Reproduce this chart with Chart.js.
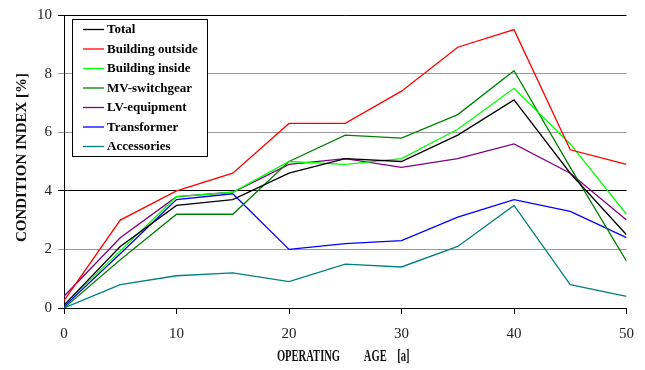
<!DOCTYPE html>
<html>
<head>
<meta charset="utf-8">
<script src="https://cdn.jsdelivr.net/npm/chart.js@4"></script>
<style>
  html, body { margin: 0; padding: 0; background: #fff; }
  #wrap { width: 645px; height: 370px; position: relative; }
</style>
</head>
<body>
<div id="wrap"><canvas id="conditionChart"></canvas></div>
<script>
// operating age [a]
const ages = [0, 5, 10, 15, 20, 25, 30, 35, 40, 45, 50];

// condition index [%] per component group
const total          = [0.1, 2.1, 3.5, 3.7, 4.6, 5.1, 5.0, 5.9, 7.1, 4.6, 2.5];
const buildOutside   = [0.25, 3.0, 4.0, 4.6, 6.3, 6.3, 7.4, 8.9, 9.5, 5.4, 4.9];
const buildInside    = [0.1, 1.95, 3.8, 3.95, 5.0, 4.9, 5.1, 6.1, 7.5, 5.6, 3.2];
const mvSwitchgear   = [0.0, 1.65, 3.2, 3.2, 5.0, 5.9, 5.8, 6.6, 8.1, 4.8, 1.6];
const lvEquipment    = [0.4, 2.4, 3.8, 3.95, 4.9, 5.1, 4.8, 5.1, 5.6, 4.6, 3.0];
const transformer    = [0.05, 1.85, 3.7, 3.9, 2.0, 2.2, 2.3, 3.1, 3.7, 3.3, 2.4];
const accessories    = [0.0, 0.8, 1.1, 1.2, 0.9, 1.5, 1.4, 2.1, 3.5, 0.8, 0.4];

const yTicks = [0, 2, 4, 6, 8, 10];
const xTicks = [0, 10, 20, 30, 40, 50];

const serif = "'Liberation Serif', 'Times New Roman', serif";

function toPoints(values) {
  return values.map((v, i) => ({ x: ages[i], y: v }));
}

function line(label, values, color) {
  return {
    label: label,
    data: toPoints(values),
    borderColor: color,
    backgroundColor: color,
    borderWidth: 1.3,
    pointRadius: 0,
    tension: 0,
    fill: false
  };
}

// legend box inside the plot, plus both axis titles
const decorations = {
  id: "decorations",
  afterDraw(chart) {
    const ctx = chart.ctx;
    const area = chart.chartArea;
    ctx.save();

    // legend
    const bx = 72, by = 19, bw = 135, bh = 137;
    ctx.fillStyle = "#fff";
    ctx.fillRect(bx, by, bw, bh);
    ctx.strokeStyle = "#000";
    ctx.lineWidth = 1;
    ctx.strokeRect(bx + 0.5, by + 0.5, bw, bh);
    ctx.font = "bold 13px " + serif;
    ctx.textBaseline = "middle";
    chart.data.datasets.forEach((ds, i) => {
      const y = 29.5 + i * 19.5;
      ctx.strokeStyle = ds.borderColor;
      ctx.lineWidth = 1.3;
      ctx.beginPath();
      ctx.moveTo(83, y);
      ctx.lineTo(104, y);
      ctx.stroke();
      ctx.fillStyle = "#000";
      ctx.fillText(ds.label, 107, y + 0.5);
    });

    // y axis title
    ctx.save();
    ctx.translate(22, (area.top + area.bottom) / 2 - 4);
    ctx.rotate(-Math.PI / 2);
    ctx.font = "bold 15px " + serif;
    ctx.textAlign = "center";
    ctx.textBaseline = "middle";
    ctx.fillStyle = "#111";
    ctx.fillText("CONDITION INDEX [%]", 0, 0);
    ctx.restore();

    // x axis title (condensed)
    ctx.save();
    ctx.translate((area.left + area.right) / 2 - 2, 357);
    ctx.scale(0.66, 1);
    ctx.font = "bold 16px " + serif;
    ctx.textAlign = "center";
    ctx.textBaseline = "middle";
    ctx.fillStyle = "#111";
    ctx.fillText("OPERATING         AGE    [a]", 0, 0);
    ctx.restore();

    ctx.restore();
  }
};

new Chart(document.getElementById("conditionChart"), {
  type: "line",
  data: {
    datasets: [
      line("Total", total, "#000000"),
      line("Building outside", buildOutside, "#ff0000"),
      line("Building inside", buildInside, "#00ff00"),
      line("MV-switchgear", mvSwitchgear, "#008000"),
      line("LV-equipment", lvEquipment, "#800080"),
      line("Transformer", transformer, "#0000ff"),
      line("Accessories", accessories, "#008080")
    ]
  },
  options: {
    responsive: true,
    maintainAspectRatio: false,
    animation: false,
    layout: { padding: { left: 0, right: 18, top: 15, bottom: 0 } },
    plugins: {
      legend: { display: false },
      tooltip: { enabled: false }
    },
    scales: {
      x: {
        type: "linear",
        min: 0,
        max: 50,
        afterBuildTicks: (scale) => { scale.ticks = xTicks.map(v => ({ value: v })); },
        afterFit: (scale) => { scale.height = 62; },
        border: { color: "#000", width: 1 },
        grid: {
          drawOnChartArea: false,
          drawTicks: true,
          tickLength: 6,
          color: "#000"
        },
        ticks: {
          color: "#222",
          padding: 11,
          maxRotation: 0,
          font: { family: serif, size: 15 }
        }
      },
      y: {
        min: 0,
        max: 10,
        afterBuildTicks: (scale) => { scale.ticks = yTicks.map(v => ({ value: v })); },
        afterFit: (scale) => { scale.width = 64; },
        border: { color: "#000", width: 1 },
        grid: {
          drawTicks: true,
          tickLength: 6,
          lineWidth: 1,
          color: (c) => (c.tick && (c.tick.value === 4 || c.tick.value === 10 || c.tick.value === 0)) ? "#000" : "#999"
        },
        ticks: {
          color: "#222",
          padding: 6,
          font: { family: serif, size: 15 }
        }
      }
    }
  },
  plugins: [decorations]
});
</script>
</body>
</html>
